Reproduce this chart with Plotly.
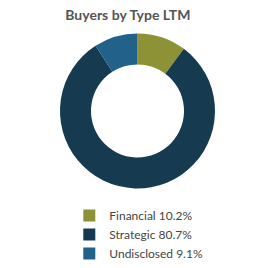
import plotly.graph_objects as go

labels = ["Financial", "Strategic", "Undisclosed"]
values = [10.2, 80.7, 9.1]
colors = ["#8e9236", "#163a50", "#21618a"]
legend_text = [f"{l} {v}%" for l, v in zip(labels, values)]

fig = go.Figure(go.Pie(
    labels=legend_text,
    values=values,
    hole=0.6,
    sort=False,
    direction="clockwise",
    rotation=0,
    marker=dict(colors=colors, line=dict(width=0)),
    textinfo="none",
    hoverinfo="label",
    domain=dict(x=[0.2, 0.8], y=[0.261, 0.869]),
))

fig.update_layout(
    width=275, height=268,
    margin=dict(l=0, r=0, t=0, b=0),
    paper_bgcolor="white",
    title=dict(text="<b>Buyers by Type LTM</b>", x=0.465, xanchor="center", y=0.945, yanchor="middle",
               font=dict(family="Lato", size=14, color="#555555")),
    legend=dict(x=0.252, xanchor="left", y=0.211, yanchor="top",
                font=dict(family="Lato", size=12, color="#444444"),
                itemclick=False),
    showlegend=True,
)

fig.write_html("out.html")
